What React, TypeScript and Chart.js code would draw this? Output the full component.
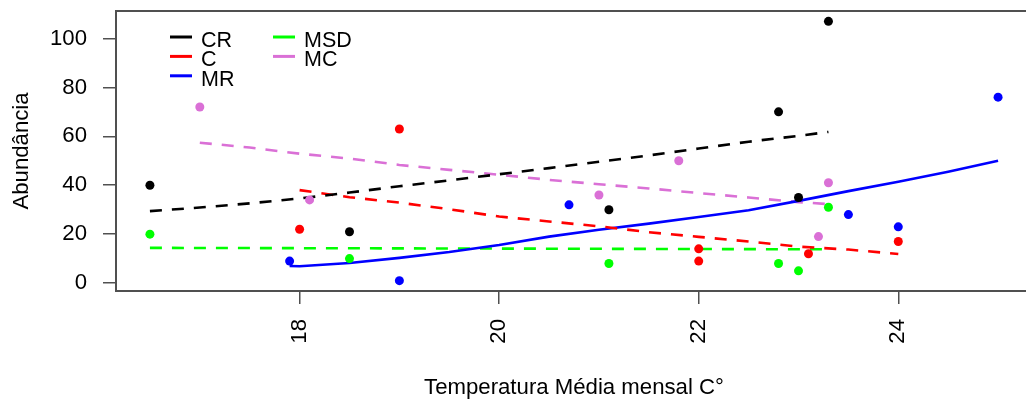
import { useEffect, useRef } from "react";
import { Chart, registerables } from "chart.js";

Chart.register(...registerables);

// Sampling groups, in legend order (filled column by column)
const GROUPS = ["CR", "C", "MR", "MSD", "MC"];
const GROUP_COLORS = ["#000000", "#FF0000", "#0000FF", "#00FF00", "#DA70D6"];
const GROUP_DASHED = [true, true, false, true, true];

// Observed abundance against monthly mean temperature
const CR_TEMP = [16.5, 18.5, 21.1, 22.8, 23.0, 23.3];
const CR_ABUND = [40, 21, 30, 70, 35, 107];
const C_TEMP = [18.0, 19.0, 22.0, 22.0, 23.1, 24.0];
const C_ABUND = [22, 63, 14, 9, 12, 17];
const MR_TEMP = [17.9, 19.0, 20.7, 23.5, 24.0, 25.0];
const MR_ABUND = [9, 1, 32, 28, 23, 76];
const MSD_TEMP = [16.5, 18.5, 21.1, 22.8, 23.0, 23.3];
const MSD_ABUND = [20, 10, 8, 8, 5, 31];
const MC_TEMP = [17.0, 18.1, 21.0, 21.8, 23.2, 23.3];
const MC_ABUND = [72, 34, 36, 50, 19, 41];

// Fitted trend curves for each group
const CR_FIT_TEMP = [16.5, 17, 17.5, 18, 18.5, 19, 19.5, 20, 20.5, 21, 21.5, 22, 22.5, 23, 23.3];
const CR_FIT = [29.4, 30.9, 32.6, 34.6, 37.0, 39.6, 42.0, 44.5, 47.0, 49.6, 52.2, 55.0, 57.8, 60.2, 61.8];
const C_FIT_TEMP = [18, 18.5, 19, 19.5, 20, 20.5, 21, 21.5, 22, 22.5, 23, 23.5, 24];
const C_FIT = [38.0, 35.1, 32.9, 30.2, 27.2, 25.2, 23.2, 20.8, 18.9, 17.0, 14.9, 13.7, 11.9];
const MR_FIT_TEMP = [17.9, 18, 18.5, 19, 19.5, 20, 20.5, 21, 21.5, 22, 22.5, 23, 23.5, 24, 24.5, 25];
const MR_FIT = [7.0, 6.9, 8.2, 10.3, 12.7, 15.6, 19.0, 21.8, 24.3, 27.0, 29.8, 33.6, 37.6, 41.4, 45.5, 50.0];
const MSD_FIT_TEMP = [16.5, 20, 23.3];
const MSD_FIT = [14.4, 14.1, 13.8];
const MC_FIT_TEMP = [17, 17.5, 18, 18.5, 19, 19.5, 20, 20.5, 21, 21.5, 22, 22.5, 23, 23.3];
const MC_FIT = [57.4, 55.4, 52.9, 50.9, 48.3, 46.3, 44.3, 42.2, 40.4, 38.7, 36.8, 35.0, 33.1, 32.3];

const X_TICKS = [18, 20, 22, 24];
const Y_TICKS = [0, 20, 40, 60, 80, 100];
const X_RANGE = [16.16, 25.34];
const Y_RANGE = [-3.24, 111.24];

const X_TITLE = "Temperatura Média mensal C°";
const Y_TITLE = "Abundância";

const FONT_FAMILY = "'Liberation Sans', Arial, sans-serif";
const FONT_SIZE = 22.2;
const FRAME_COLOR = "#505050";

const OBS_TEMP = [CR_TEMP, C_TEMP, MR_TEMP, MSD_TEMP, MC_TEMP];
const OBS_ABUND = [CR_ABUND, C_ABUND, MR_ABUND, MSD_ABUND, MC_ABUND];
const FIT_TEMP = [CR_FIT_TEMP, C_FIT_TEMP, MR_FIT_TEMP, MSD_FIT_TEMP, MC_FIT_TEMP];
const FIT_ABUND = [CR_FIT, C_FIT, MR_FIT, MSD_FIT, MC_FIT];

const toPoints = (xs: number[], ys: number[]) => xs.map((x, i) => ({ x, y: ys[i] }));

// Draws the full plot frame and the two-column legend in the top-left corner
const frameAndLegend = {
  id: "frameAndLegend",
  afterDatasetsDraw(chart: any) {
    const { ctx, chartArea } = chart;
    const { left, top, right, bottom } = chartArea;
    ctx.save();
    ctx.strokeStyle = FRAME_COLOR;
    ctx.lineWidth = 2;
    ctx.strokeRect(left, top, right - left, bottom - top);

    ctx.font = `21.5px ${FONT_FAMILY}`;
    ctx.textBaseline = "alphabetic";
    ctx.textAlign = "left";
    GROUPS.forEach((name, i) => {
      const col = i < 3 ? 0 : 1;
      const row = i < 3 ? i : i - 3;
      const x0 = left + 54 + col * 103;
      const base = top + 36 + row * 19.4;
      ctx.strokeStyle = GROUP_COLORS[i];
      ctx.lineWidth = 3;
      ctx.beginPath();
      ctx.moveTo(x0, base - 10);
      ctx.lineTo(x0 + 22, base - 10);
      ctx.stroke();
      ctx.fillStyle = "#000";
      ctx.fillText(name, x0 + 31, base);
    });
    ctx.restore();
  },
};

export default function App() {
  const canvasRef = useRef<HTMLCanvasElement | null>(null);

  useEffect(() => {
    const canvas = canvasRef.current;
    if (!canvas) return;

    const pointSets = GROUPS.map((name, i) => ({
      label: name,
      data: toPoints(OBS_TEMP[i], OBS_ABUND[i]),
      showLine: false,
      pointRadius: 4.5,
      pointHoverRadius: 4.5,
      pointBackgroundColor: GROUP_COLORS[i],
      pointBorderWidth: 0,
      borderColor: GROUP_COLORS[i],
    }));

    const fitSets = GROUPS.map((name, i) => ({
      label: name + " ajuste",
      data: toPoints(FIT_TEMP[i], FIT_ABUND[i]),
      showLine: true,
      pointRadius: 0,
      borderColor: GROUP_COLORS[i],
      borderWidth: 2.6,
      borderDash: GROUP_DASHED[i] ? [12, 10] : [],
      borderCapStyle: "butt",
      tension: 0,
      fill: false,
    }));

    const tickFont = { family: FONT_FAMILY, size: FONT_SIZE };

    const chart = new Chart(canvas, {
      type: "scatter",
      data: { datasets: [...pointSets, ...fitSets] as any },
      options: {
        animation: false,
        responsive: false,
        devicePixelRatio: 1,
        layout: { padding: { left: 0, top: 11, right: 28, bottom: 0 } },
        plugins: {
          legend: { display: false },
          tooltip: { enabled: false },
        },
        scales: {
          x: {
            type: "linear",
            min: X_RANGE[0],
            max: X_RANGE[1],
            afterBuildTicks: (scale: any) => {
              scale.ticks = X_TICKS.map((v) => ({ value: v }));
            },
            afterFit: (scale: any) => {
              scale.height = 112;
              scale.paddingLeft = 0;
              scale.paddingRight = 0;
            },
            grid: {
              drawOnChartArea: false,
              drawTicks: true,
              tickLength: 13,
              color: FRAME_COLOR,
              lineWidth: 1.5,
            },
            border: { display: false },
            ticks: {
              autoSkip: false,
              minRotation: 90,
              maxRotation: 90,
              padding: 15,
              color: "#000",
              font: tickFont,
              callback: (v: any) => String(v),
            },
            title: {
              display: true,
              text: X_TITLE,
              color: "#000",
              font: tickFont,
              padding: { top: 0, bottom: 2 },
            },
          },
          y: {
            type: "linear",
            min: Y_RANGE[0],
            max: Y_RANGE[1],
            afterBuildTicks: (scale: any) => {
              scale.ticks = Y_TICKS.map((v) => ({ value: v }));
            },
            afterFit: (scale: any) => {
              scale.width = 116;
              scale.paddingTop = 0;
              scale.paddingBottom = 0;
            },
            grid: {
              drawOnChartArea: false,
              drawTicks: true,
              tickLength: 13,
              color: FRAME_COLOR,
              lineWidth: 1.5,
            },
            border: { display: false },
            ticks: {
              padding: 16,
              color: "#000",
              font: tickFont,
              callback: (v: any) => String(v),
            },
            title: {
              display: true,
              text: Y_TITLE,
              color: "#000",
              font: tickFont,
              padding: { top: 9, bottom: 0 },
            },
          },
        },
      },
      plugins: [frameAndLegend],
    });

    return () => chart.destroy();
  }, []);

  return (
    <div
      style={{
        position: "fixed",
        left: 0,
        top: 0,
        width: 1026,
        height: 403,
        overflow: "hidden",
        background: "#fff",
      }}
    >
      <canvas ref={canvasRef} width={1060} height={403} style={{ display: "block" }} />
    </div>
  );
}
